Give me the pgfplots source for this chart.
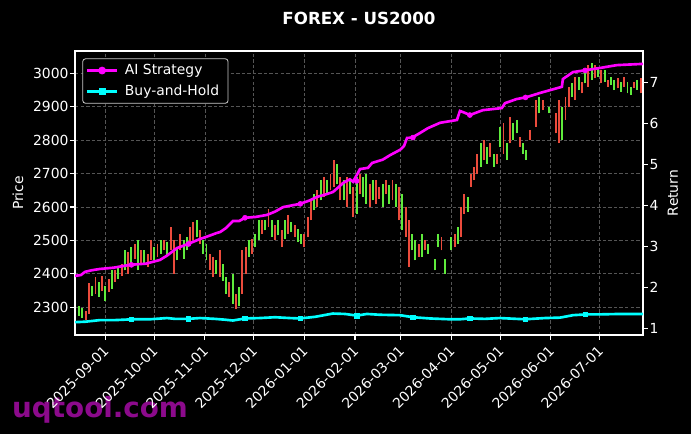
\documentclass[border=0pt]{standalone}
\usepackage{fontspec}
\setmainfont{DejaVu Sans}
\usepackage{pgfplots}
\pgfplotsset{compat=1.18}
\usepackage{pgfplotstable}
\definecolor{candlered}{RGB}{235,75,60}
\definecolor{candlegreen}{RGB}{95,235,60}
\definecolor{gridgray}{RGB}{85,85,85}
\definecolor{wm}{RGB}{140,10,140}
\definecolor{legborder}{RGB}{200,200,200}
\definecolor{mag}{RGB}{255,0,255}
\definecolor{cyn}{RGB}{0,255,255}

\pgfplotstableread{
d lo hi
-12 2262 2290
-10 2280 2372
-6 2340 2390
-2 2350 2395
2 2345 2385
6 2375 2410
10 2395 2430
14 2400 2465
18 2445 2490
22 2430 2470
26 2420 2460
28 2440 2500
32 2450 2490
36 2470 2500
40 2470 2540
42 2400 2500
46 2470 2520
52 2495 2540
54 2500 2555
58 2490 2530
64 2410 2460
66 2390 2450
70 2390 2470
76 2330 2375
80 2295 2340
84 2340 2470
86 2400 2480
90 2460 2505
96 2520 2560
100 2540 2595
104 2500 2545
108 2480 2530
112 2520 2575
116 2510 2545
122 2480 2520
124 2510 2570
126 2560 2620
130 2600 2650
134 2630 2690
138 2650 2700
140 2660 2740
144 2620 2690
148 2600 2690
152 2570 2660
156 2640 2700
162 2600 2670
166 2610 2680
168 2625 2660
172 2640 2680
176 2620 2680
180 2560 2660
184 2510 2600
186 2420 2560
192 2450 2490
196 2470 2500
206 2470 2510
214 2480 2520
218 2510 2600
220 2580 2640
224 2660 2700
226 2680 2720
228 2700 2760
232 2740 2800
236 2750 2790
240 2730 2760
244 2760 2850
248 2790 2870
254 2780 2810
260 2800 2830
264 2840 2920
268 2890 2920
276 2820 2880
278 2790 2920
282 2860 2930
284 2900 2960
288 2920 2990
292 2940 2975
296 2960 3025
300 2985 3025
304 2970 3010
308 2960 2980
314 2955 2985
318 2960 2990
324 2955 2975
328 2940 2985
}\redcandles

\pgfplotstableread{
d lo hi
-16 2275 2305
-14 2268 2298
-8 2335 2365
-4 2330 2375
0 2320 2365
4 2355 2410
8 2385 2420
12 2410 2470
16 2425 2480
20 2410 2500
24 2425 2470
30 2440 2480
34 2460 2500
38 2455 2495
44 2440 2480
48 2445 2500
50 2470 2510
56 2510 2560
60 2460 2500
62 2440 2490
68 2400 2440
72 2380 2430
74 2340 2390
78 2310 2400
82 2305 2360
88 2450 2500
92 2480 2520
94 2500 2560
98 2530 2560
102 2510 2560
106 2515 2560
110 2505 2560
114 2525 2555
118 2495 2535
120 2490 2520
128 2590 2640
132 2620 2680
136 2640 2680
142 2670 2730
146 2620 2680
150 2640 2680
154 2580 2690
158 2630 2690
160 2610 2700
164 2620 2680
170 2600 2670
174 2610 2665
178 2600 2670
182 2530 2640
188 2470 2520
190 2440 2500
194 2450 2520
198 2460 2490
202 2410 2445
204 2480 2520
208 2400 2445
212 2470 2510
216 2490 2540
222 2585 2630
230 2720 2790
234 2730 2780
238 2720 2760
242 2780 2840
246 2740 2790
250 2800 2850
252 2820 2860
256 2760 2790
258 2740 2770
266 2880 2930
272 2880 2900
280 2800 2900
286 2930 2970
290 2950 2990
294 2970 3010
298 2980 3030
302 2990 3020
306 2975 3010
310 2965 2990
312 2950 2980
316 2945 2975
320 2940 2975
322 2935 2960
326 2950 2980
}\greencandles

\pgfplotstableread{
d r
-18.6 2.28
-15 2.30
-12.4 2.38
-8 2.42
-3.2 2.45
5 2.48
15.1 2.55
25 2.58
33.5 2.67
38 2.78
43.9 2.96
50 3.05
58.0 3.18
63 3.25
68.4 3.33
70.3 3.35
74 3.45
78.2 3.62
82 3.62
85.6 3.70
92 3.72
99.1 3.77
104 3.85
108.9 3.96
114 4.00
119.3 4.04
125 4.12
129.7 4.21
135 4.27
139.5 4.33
143 4.45
145.7 4.55
149.9 4.64
151.8 4.58
156.1 4.89
161.0 4.92
163.5 5.04
170 5.12
174.5 5.23
180.6 5.36
183 5.45
184.9 5.65
188 5.66
192.8 5.77
197.7 5.89
205.1 6.02
215.5 6.09
217.3 6.31
220 6.27
223.4 6.21
231.4 6.33
243.0 6.38
244.9 6.50
252 6.60
258.4 6.65
266.4 6.75
279.8 6.90
280.4 7.09
286.6 7.26
295.1 7.31
303.1 7.36
313.5 7.43
329.5 7.46
}\aistrat

\pgfplotstableread{
d r
-18.6 2.28
16 2.55
51 3.06
85.6 3.70
119.5 4.04
154 4.60
188.5 5.66
223.4 6.21
257.5 6.64
294 7.30
}\aimarks

\pgfplotstableread{
d r
-18.6 1.15
-12.4 1.16
-3.2 1.20
6 1.20
17 1.22
27.4 1.22
37.8 1.25
42.7 1.23
50.7 1.23
58 1.25
67.2 1.23
73.3 1.21
78.2 1.19
85.6 1.24
94.8 1.25
104 1.27
113 1.25
119.3 1.24
128.5 1.28
139.5 1.36
146.9 1.35
154.2 1.31
160.3 1.35
168.3 1.33
180.6 1.32
188.5 1.27
198.9 1.24
211.1 1.22
217.3 1.22
223.4 1.24
232.6 1.23
241.8 1.25
257.1 1.22
269.4 1.25
278.6 1.26
286.6 1.32
295.1 1.34
303.1 1.34
315.4 1.35
329.5 1.35
}\bnh

\pgfplotstableread{
d r
-18.6 1.15
16 1.22
51 1.23
85.6 1.24
119.5 1.24
154 1.31
188.5 1.27
223.4 1.24
257.5 1.22
294 1.34
}\bnhmarks

\begin{document}
\begin{tikzpicture}
\fill[black] (0pt,0pt) rectangle (497.52pt,312.48pt);
\node[anchor=base west, text=wm, font=\fontsize{20}{24}\selectfont\bfseries, inner sep=0pt] at (8.6pt,12.2pt) {uqtool.com};

\begin{axis}[
  at={(54pt,71.28pt)}, anchor=south west,
  scale only axis, width=408.96pt, height=204.48pt,
  xmin=-18.57, xmax=329.5, ymin=2217, ymax=3066.7,
  axis line style={white, line width=0.8pt},
  tick style={white, line width=0.8pt},
  tick align=outside, major tick length=3.5pt,
  tick pos=left,
  xtick={0,30,61,91,122,153,181,212,242,273,303},
  xticklabels={2025-09-01,2025-10-01,2025-11-01,2025-12-01,2026-01-01,2026-02-01,2026-03-01,2026-04-01,2026-05-01,2026-06-01,2026-07-01},
  ytick={2300,2400,2500,2600,2700,2800,2900,3000},
  yticklabels={2300,2400,2500,2600,2700,2800,2900,3000},
  tick label style={text=white, font=\fontsize{10}{12}\selectfont},
  xticklabel style={rotate=45, anchor=north east, xshift=-3pt, inner sep=1pt},
  yticklabel style={inner sep=1pt},
  grid=major,
  major grid style={gridgray, dash pattern=on 2.5pt off 1.5pt, line width=0.5pt},
  ylabel={Price},
  ylabel style={text=white, font=\fontsize{10}{12}\selectfont, at={(axis description cs:-0.1004,0.5)}, anchor=center, rotate=0},
  title={FOREX - US2000},
  title style={text=white, font=\fontsize{12}{14}\selectfont\bfseries, at={(axis description cs:0.5,1.118)}, anchor=center, yshift=-6.4pt},
  clip=true,
]
\addplot[candlered, solid, line width=1.4pt, -, mark=none,
  quiver={u=0, v=\thisrow{hi}-\thisrow{lo}}]
  table[x=d, y=lo] {\redcandles};
\addplot[candlegreen, solid, line width=1.4pt, -, mark=none,
  quiver={u=0, v=\thisrow{hi}-\thisrow{lo}}]
  table[x=d, y=lo] {\greencandles};
\end{axis}

\begin{axis}[
  at={(54pt,71.28pt)}, anchor=south west,
  scale only axis, width=408.96pt, height=204.48pt,
  xmin=-18.57, xmax=329.5, ymin=0.836, ymax=7.775,
  axis x line=none,
  axis y line*=right,
  axis line style={white, line width=0.8pt, -},
  tick style={white, line width=0.8pt},
  tick align=outside, major tick length=3.5pt,
  ytick={1,2,3,4,5,6,7},
  yticklabels={1,2,3,4,5,6,7},
  tick label style={text=white, font=\fontsize{10}{12}\selectfont},
  yticklabel style={inner sep=1pt},
  ylabel={Return},
  ylabel style={text=white, font=\fontsize{10}{12}\selectfont, at={(axis description cs:1.0528,0.5)}, anchor=center, rotate=0},
  legend image code/.code={\draw[mark repeat=2,mark phase=2,#1] plot coordinates {(0pt,0pt) (11pt,0pt) (22pt,0pt)};},
  legend cell align=left,
  legend style={at={(axis description cs:0.0129,0.974)}, anchor=north west, fill=black, draw=legborder,
    rounded corners=2pt, line width=0.6pt, text=white, font=\fontsize{10}{12}\selectfont,
    inner sep=2pt, row sep=2pt, nodes={inner xsep=4.5pt}},
  clip=true,
]
\addlegendimage{mag, line width=1.9pt, mark=*, mark size=1.8pt}
\addlegendentry{AI Strategy}
\addlegendimage{cyn, line width=1.9pt, mark=square*, mark size=1.6pt}
\addlegendentry{Buy-and-Hold}
\addplot[mag, line width=1.9pt, mark=none, forget plot] table[x=d, y=r] {\aistrat};
\addplot[only marks, mag, mark=*, mark size=1.8pt, forget plot] table[x=d, y=r] {\aimarks};
\addplot[cyn, line width=1.9pt, mark=none, forget plot] table[x=d, y=r] {\bnh};
\addplot[only marks, cyn, mark=square*, mark size=1.6pt, forget plot] table[x=d, y=r] {\bnhmarks};
\end{axis}
\pgfresetboundingbox
\path[use as bounding box] (0pt,0pt) rectangle (497.52pt,312.48pt);
\end{tikzpicture}
\end{document}
